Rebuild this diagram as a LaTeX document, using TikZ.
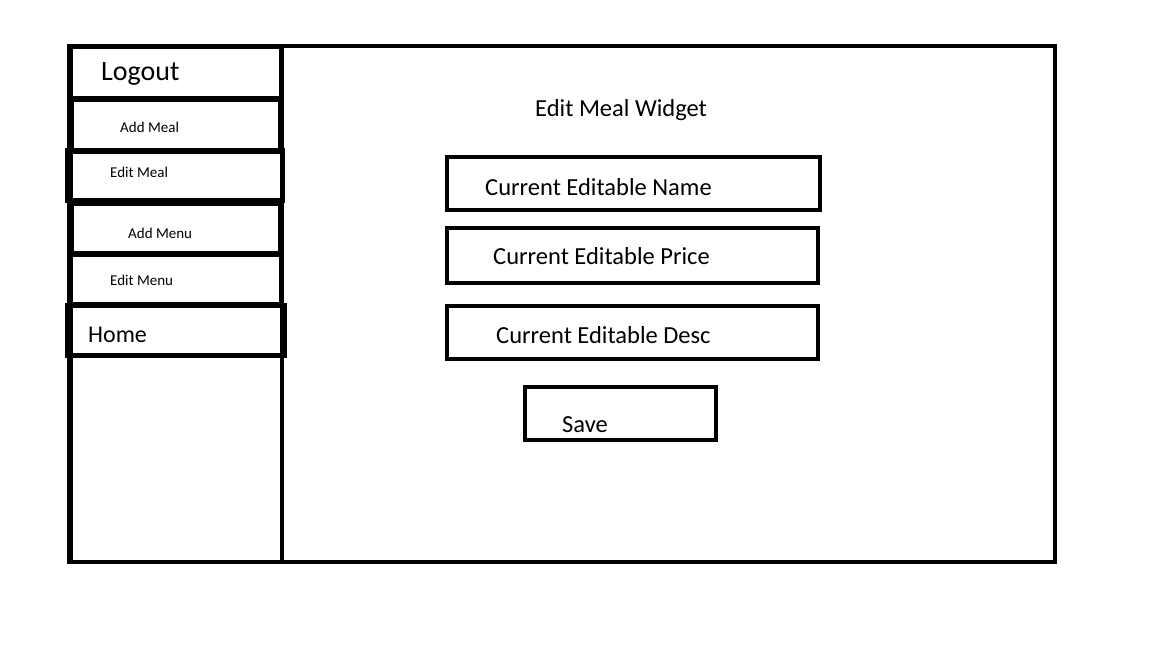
\documentclass[tikz,border=0pt]{standalone}
\usepackage{fontspec}
\setmainfont{Carlito}
\begin{document}
\begin{tikzpicture}[x=1pt,y=-1pt,
  frame/.style={draw=black,line width=4pt,inner sep=0pt,outer sep=0pt},
  sbox/.style={draw=black,line width=5pt,inner sep=0pt,outer sep=0pt},
  lbl/.style={anchor=west,inner sep=0pt,font=\fontsize{24.5}{28}\selectfont},
  small/.style={anchor=west,inner sep=0pt,font=\fontsize{15}{18}\selectfont}]
\useasboundingbox (0,0) rectangle (1152,648);
\fill[white] (0,0) rectangle (1152,648);
% main frame
\node[frame,minimum width=986pt,minimum height=516pt] (main) at (562,304) {};
\node[frame,minimum width=211pt,minimum height=516pt] (side) at (176,304) {};
% sidebar boxes
\node[sbox,minimum width=211pt,minimum height=52pt] (logout) at (176,72) {};
\node[sbox,minimum width=209pt,minimum height=52pt] (addmeal) at (176,125) {};
\node[sbox,minimum width=215pt,minimum height=50pt] (editmeal) at (175,175) {};
\node[sbox,minimum width=209pt,minimum height=50pt] (addmenu) at (176,228) {};
\node[sbox,minimum width=211pt,minimum height=50pt] (editmenu) at (176,279) {};
\node[sbox,minimum width=217pt,minimum height=50pt] (home) at (176,330) {};
\node[anchor=west,inner sep=0pt,font=\fontsize{28}{32}\selectfont] (tlogout) at (101,74) {Logout};
\node[small] (taddmeal) at (120,127) {Add Meal};
\node[small] (teditmeal) at (110,172) {Edit Meal};
\node[small] (taddmenu) at (128,233) {Add Menu};
\node[small] (teditmenu) at (110,280) {Edit Menu};
\node[anchor=west,inner sep=0pt,font=\fontsize{24}{28}\selectfont] (thome) at (88,335) {Home};
% widget
\node[lbl] (title) at (535,110) {Edit Meal Widget};
\node[frame,minimum width=373pt,minimum height=53pt] (name) at (633.5,183.5) {};
\node[frame,minimum width=371pt,minimum height=55pt] (price) at (632.5,255.5) {};
\node[frame,minimum width=371pt,minimum height=53pt] (desc) at (632.5,332.5) {};
\node[frame,minimum width=191pt,minimum height=53pt] (save) at (620.5,413.5) {};
\node[lbl] (tname) at (485,187) {Current Editable Name};
\node[lbl] (tprice) at (493,256) {Current Editable Price};
\node[lbl] (tdesc) at (496,335) {Current Editable Desc};
\node[lbl] (tsave) at (562,425) {Save};
\end{tikzpicture}
\end{document}
